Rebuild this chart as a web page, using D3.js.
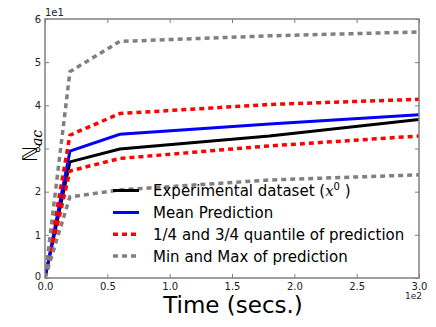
<!DOCTYPE html>
<html lang="en">
<head>
<meta charset="utf-8" />
<title>N_ac vs time</title>
<style>
  body { margin: 0; background: #fff; }
  svg { display: block; font-family: "DejaVu Sans", sans-serif; }
</style>
</head>
<body>
<script src="https://d3js.org/d3.v7.min.js"></script>
<div id="chart"></div>
<script>
// data (time in secs, value in N_ac units)
const times        = [0, 20, 60, 180, 300];
const experimental = [0, 26.9, 29.9, 32.9, 36.7];
const meanPred     = [0, 29.4, 33.3, 35.7, 37.8];
const q25          = [0, 24.8, 27.7, 30.6, 32.9];
const q75          = [0, 33.1, 38.1, 40.2, 41.4];
const minPred      = [0, 18.8, 20.4, 22.7, 23.9];
const maxPred      = [0, 47.8, 54.8, 56.1, 57.0];

const xTicks = [0, 50, 100, 150, 200, 250, 300];
const yTicks = [0, 10, 20, 30, 40, 50, 60];
const legendLabels = ["Experimental dataset", "Mean Prediction",
  "1/4 and 3/4 quantile of prediction", "Min and Max of prediction"];

const W = 436, H = 327;
const plot = {left: 45, right: 419, top: 19, bottom: 278};

const svg = d3.select("#chart").append("svg")
  .attr("width", W).attr("height", H);

const x = d3.scaleLinear().domain([0, 300]).range([plot.left, plot.right]);
const y = d3.scaleLinear().domain([0, 60]).range([plot.bottom, plot.top]);

// series styles
const series = [
  {vals: experimental, color: "#000000", dash: null, w: 3},
  {vals: meanPred, color: "#0000ff", dash: null, w: 3},
  {vals: q25, color: "#ff0000", dash: "5,4", w: 3.5},
  {vals: q75, color: "#ff0000", dash: "5,4", w: 3.5},
  {vals: minPred, color: "#808080", dash: "5,4", w: 3.5},
  {vals: maxPred, color: "#808080", dash: "5,4", w: 3.5}
];

svg.append("clipPath").attr("id", "clip")
  .append("rect").attr("x", plot.left).attr("y", plot.top)
  .attr("width", plot.right - plot.left).attr("height", plot.bottom - plot.top);

const line = d3.line().x((d, i) => x(times[i])).y(d => y(d));

svg.append("g").attr("clip-path", "url(#clip)")
  .selectAll("path").data(series).join("path")
  .attr("d", d => line(d.vals))
  .attr("fill", "none")
  .attr("stroke", d => d.color)
  .attr("stroke-width", d => d.w)
  .attr("stroke-dasharray", d => d.dash)
  .attr("stroke-linejoin", "miter");

// axes, ticks inward on all four sides
const spine = "#808080";
function styleAxis(g, labels) {
  g.select(".domain").remove();
  g.selectAll(".tick line").attr("stroke", spine).attr("stroke-width", 1);
  g.selectAll(".tick text").attr("fill", "#222").style("font-size", "10px")
    .style("font-family", "DejaVu Sans");
  if (!labels) g.selectAll(".tick text").remove();
}

svg.append("g").attr("transform", `translate(0,${plot.bottom})`)
  .call(d3.axisBottom(x).tickValues(xTicks).tickSize(-4).tickPadding(5)
    .tickFormat(d => (d / 100).toFixed(1)))
  .call(g => styleAxis(g, true));
svg.append("g").attr("transform", `translate(0,${plot.top})`)
  .call(d3.axisTop(x).tickValues(xTicks).tickSize(-4))
  .call(g => styleAxis(g, false));
svg.append("g").attr("transform", `translate(${plot.left},0)`)
  .call(d3.axisLeft(y).tickValues(yTicks).tickSize(-4).tickPadding(4)
    .tickFormat(d => d / 10))
  .call(g => styleAxis(g, true))
  // the "0" sits just above the "0.0" of the x axis
  .call(g => g.selectAll(".tick text").filter(d => d === 0).attr("dy", "0.1em"));
svg.append("g").attr("transform", `translate(${plot.right},0)`)
  .call(d3.axisRight(y).tickValues(yTicks).tickSize(-4))
  .call(g => styleAxis(g, false));

svg.append("rect")
  .attr("x", plot.left).attr("y", plot.top)
  .attr("width", plot.right - plot.left).attr("height", plot.bottom - plot.top)
  .attr("fill", "none").attr("stroke", spine).attr("stroke-width", 1.5);

// offset texts
svg.append("text").attr("x", plot.left).attr("y", 16)
  .style("font-size", "10px").attr("fill", "#222").text("1e1");
svg.append("text").attr("x", plot.right + 3).attr("y", 299)
  .attr("text-anchor", "end")
  .style("font-size", "9px").attr("fill", "#222").text("1e2");

// axis labels
svg.append("text")
  .attr("x", (plot.left + plot.right) / 2 + 1).attr("y", 313)
  .attr("text-anchor", "middle")
  .style("font-size", "23px")
  .text("Time (secs.)");

const yl = svg.append("text")
  .attr("transform", "translate(37,146) rotate(-90)")
  .attr("text-anchor", "middle")
  .style("font-size", "20px");
yl.append("tspan").text("\u2115");
yl.append("tspan").attr("dy", 5).style("font-size", "14px")
  .style("font-style", "italic").style("font-family", "DejaVu Serif").text("ac");

// legend (no frame)
const legendStyles = [series[0], series[1], series[2], series[4]];
const rowY = [190.5, 212.5, 234.3, 256];
const lg = svg.append("g");
legendStyles.forEach((s, i) => {
  lg.append("line")
    .attr("x1", 113).attr("x2", 139)
    .attr("y1", rowY[i]).attr("y2", rowY[i])
    .attr("stroke", s.color).attr("stroke-width", s.w)
    .attr("stroke-dasharray", s.dash);
  const t = lg.append("text").attr("x", 153).attr("y", rowY[i] + 5.5)
    .style("font-size", "15px").text(legendLabels[i]);
  if (i === 0) {
    t.append("tspan").text(" (");
    t.append("tspan").style("font-style", "italic")
      .style("font-family", "DejaVu Serif").text("x");
    t.append("tspan").attr("dy", -6).style("font-size", "10px").text("0");
    t.append("tspan").attr("dy", 6).text(" )");
  }
});
</script>
</body>
</html>
